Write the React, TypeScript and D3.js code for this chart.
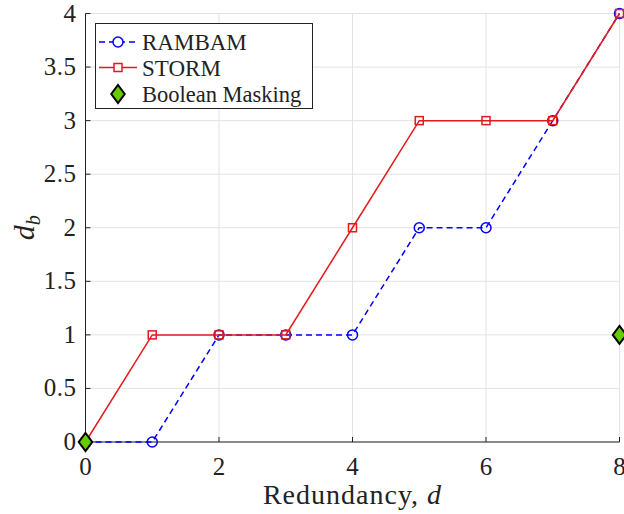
import React from "react";
import * as d3 from "d3";

const redundancy = [0, 1, 2, 3, 4, 5, 6, 7, 8];
const rambam = [0, 0, 1, 1, 1, 2, 2, 3, 4];
const storm = [0, 1, 1, 1, 2, 3, 3, 3, 4];
const booleanX = [0, 8];
const booleanY = [0, 1];
const xTicks = [0, 2, 4, 6, 8];
const yTicks = [0, 0.5, 1, 1.5, 2, 2.5, 3, 3.5, 4];

const W = 624, H = 514;
const L = 85.5, R = 619.5, T = 13.5, B = 442;
const font = "'Liberation Serif', 'Times New Roman', serif";
const BLUE = "#0000ff";
const RED = "#e31a1c";
const GREEN = "#66cc00";

export default function App() {
  const x = d3.scaleLinear().domain([0, 8]).range([L, R]);
  const y = d3.scaleLinear().domain([0, 4]).range([B, T]);
  const line = d3.line<number>().x((_, i) => x(redundancy[i])).y((v) => y(v));
  const diamond = (cx: number, cy: number, r: number) =>
    `M${cx},${cy - r}L${cx + r * 0.75},${cy}L${cx},${cy + r}L${cx - r * 0.75},${cy}Z`;
  const sq = 8;
  return (
    <svg width={W} height={H} style={{ position: "absolute", left: 0, top: 0, background: "#fff" }}>
      <rect x={0} y={0} width={W} height={H} fill="#fff" />
      {/* grid */}
      {xTicks.map((t) => (
        <line key={"gx" + t} x1={x(t)} x2={x(t)} y1={T} y2={B} stroke="#e3e3e3" strokeWidth={1} />
      ))}
      {yTicks.map((t) => (
        <line key={"gy" + t} x1={L} x2={R} y1={y(t)} y2={y(t)} stroke="#e3e3e3" strokeWidth={1} />
      ))}
      {/* axes */}
      <line x1={L} x2={L} y1={T} y2={B} stroke="#222" strokeWidth={1} />
      <line x1={L} x2={R} y1={B} y2={B} stroke="#222" strokeWidth={1} />
      {xTicks.map((t) => (
        <g key={"tx" + t}>
          <line x1={x(t)} x2={x(t)} y1={B} y2={B - 5} stroke="#222" />
          <text x={x(t)} y={B + 33} fontFamily={font} fontSize={25} textAnchor="middle" fill="#222">{t}</text>
        </g>
      ))}
      {yTicks.map((t) => (
        <g key={"ty" + t}>
          <line x1={L} x2={L + 5} y1={y(t)} y2={y(t)} stroke="#222" />
          <text x={L - 9} y={y(t) + 8} fontFamily={font} fontSize={25} letterSpacing={0.5} textAnchor="end" fill="#222">{t}</text>
        </g>
      ))}
      {/* labels */}
      <text x={(L + R) / 2} y={504} fontFamily={font} fontSize={28} letterSpacing={1} textAnchor="middle" fill="#222">
        Redundancy, <tspan fontStyle="italic">d</tspan>
      </text>
      <text transform={`translate(34,${(T + B) / 2}) rotate(-90)`} fontFamily={font} fontSize={30} textAnchor="middle" fill="#222">
        <tspan fontStyle="italic">d</tspan>
        <tspan fontStyle="italic" fontSize={20} dy={6}>b</tspan>
      </text>
      {/* RAMBAM */}
      <path d={line(rambam) || ""} fill="none" stroke={BLUE} strokeWidth={1.5} strokeDasharray="6,4" />
      {rambam.map((v, i) => (
        <circle key={"c" + i} cx={x(redundancy[i])} cy={y(v)} r={5} fill="none" stroke={BLUE} strokeWidth={1.5} />
      ))}
      {/* STORM */}
      <path d={line(storm) || ""} fill="none" stroke={RED} strokeWidth={1.5} />
      {storm.map((v, i) => (
        <rect key={"s" + i} x={x(redundancy[i]) - sq / 2} y={y(v) - sq / 2} width={sq} height={sq} fill="none" stroke={RED} strokeWidth={1.5} />
      ))}
      {/* Boolean masking */}
      {booleanX.map((bx, i) => (
        <path key={"d" + i} d={diamond(x(bx), y(booleanY[i]), 9)} fill={GREEN} stroke="#000" strokeWidth={2} />
      ))}
      {/* legend */}
      <g>
        <rect x={95.5} y={23.5} width={217} height={85} fill="#fff" stroke="#222" strokeWidth={1} />
        <line x1={99} x2={137} y1={42} y2={42} stroke={BLUE} strokeWidth={1.5} strokeDasharray="6,4" />
        <circle cx={118} cy={42} r={5} fill="#fff" stroke={BLUE} strokeWidth={1.5} />
        <text x={142} y={50} fontFamily={font} fontSize={23} fill="#222">RAMBAM</text>
        <line x1={99} x2={137} y1={67.5} y2={67.5} stroke={RED} strokeWidth={1.5} />
        <rect x={118 - sq / 2} y={67.5 - sq / 2} width={sq} height={sq} fill="#fff" stroke={RED} strokeWidth={1.5} />
        <text x={142} y={75.5} fontFamily={font} fontSize={23} fill="#222">STORM</text>
        <path d={diamond(118, 94, 9)} fill={GREEN} stroke="#000" strokeWidth={2} />
        <text x={142} y={102} fontFamily={font} fontSize={22.5} fill="#222">Boolean Masking</text>
      </g>
    </svg>
  );
}
